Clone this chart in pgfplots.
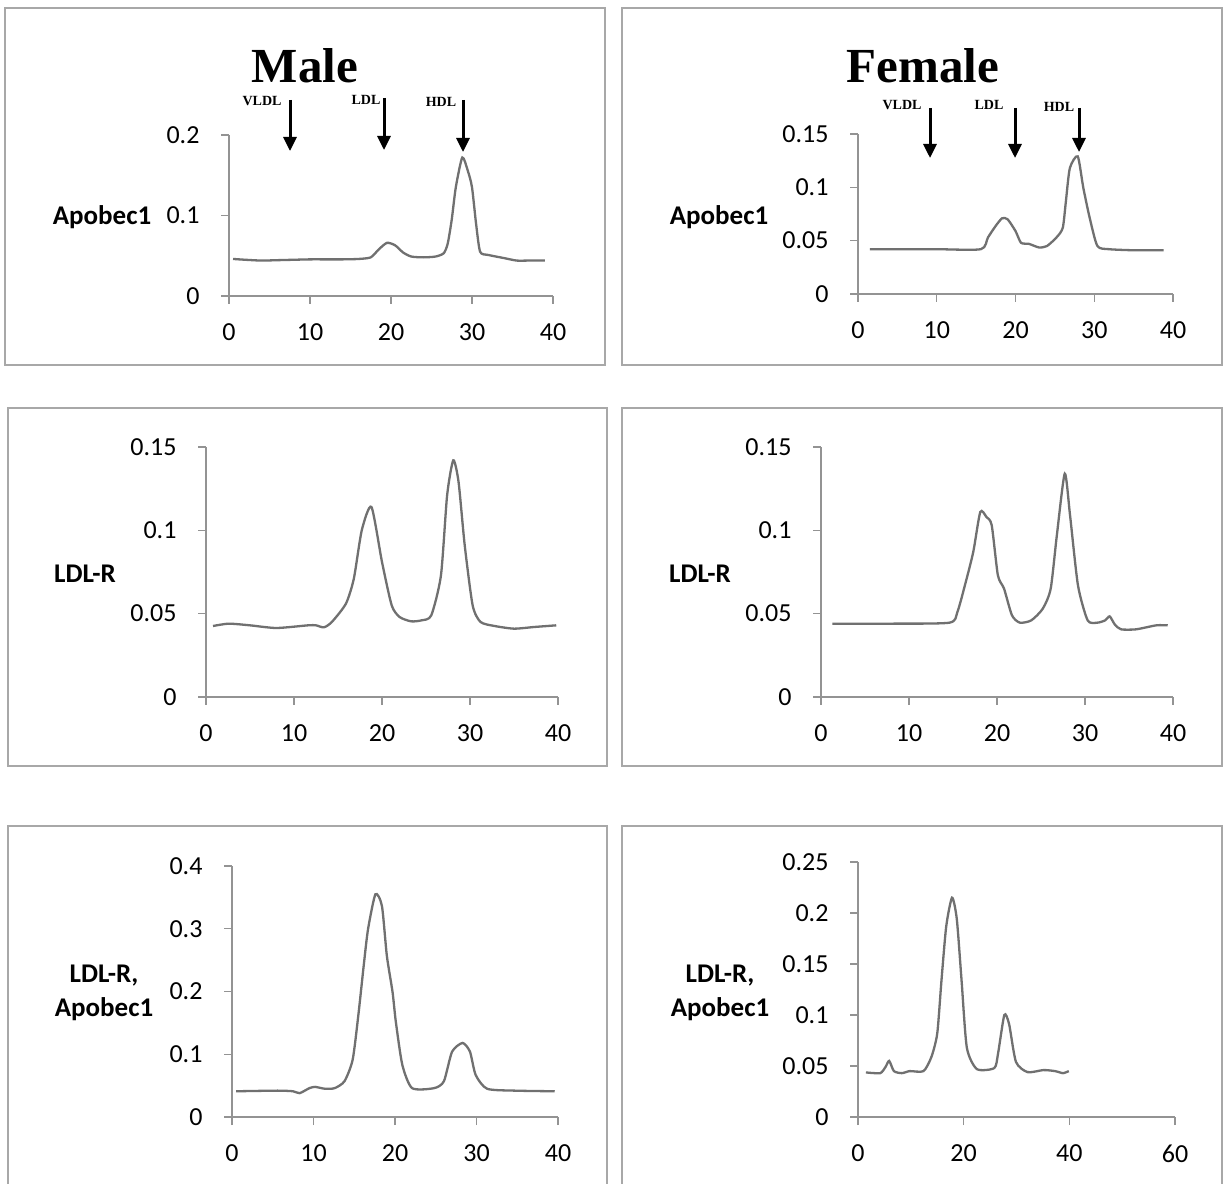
\documentclass[border=0pt]{standalone}
\usepackage{fontspec}
\setmainfont{Carlito}
\newfontfamily\timesf{Liberation Serif}
\usepackage{pgfplots}
\pgfplotsset{compat=1.18}
\usetikzlibrary{arrows.meta}
\definecolor{axgray}{HTML}{939393}
\definecolor{curvegray}{HTML}{707070}
\definecolor{framegray}{HTML}{A8A8A8}
\pgfplotsset{
  panel/.style={
    scale only axis, anchor=south west,
    axis x line=bottom, axis y line=left,
    axis line style={draw=axgray, line width=1.3pt, -},
    every tick/.style={draw=axgray, line width=1.3pt},
    major tick length=8pt, tick align=outside,
    xmin=0, xmax=40, ymin=0, enlargelimits=false,
    xtick={0,10,20,30,40}, xticklabels={0,10,20,30,40},
    tick label style={font=\fontsize{26}{30}\selectfont, text=black},
    xticklabel style={yshift=-16pt},
    yticklabel style={xshift=-18pt},
    /pgf/number format/assume math mode=true,
    clip=false,
  },
  curve/.style={draw=curvegray, line width=2.3pt, mark=none, smooth, tension=0.4},
}
\begin{document}
\begin{tikzpicture}[x=1pt,y=1pt]
\useasboundingbox (0,0) rectangle (1225,1183);
\fill[white] (0,0) rectangle (1225,1183);
% frames
\draw[framegray, line width=1.5pt] (5,1175) rectangle (605,818);
\draw[framegray, line width=1.5pt] (622,1175) rectangle (1222,818);
\draw[framegray, line width=1.5pt] (8,775) rectangle (607,417);
\draw[framegray, line width=1.5pt] (622,775) rectangle (1222,417);
\draw[framegray, line width=1.5pt] (8,357) rectangle (607,-10);
\draw[framegray, line width=1.5pt] (622,357) rectangle (1222,-10);

% Panel 1: Male Apobec1
\begin{axis}[panel, at={(229pt,887pt)}, width=324pt, height=161pt, ymax=0.2,
  ytick={0,0.1,0.2}, yticklabels={0,0.1,0.2}]
\addplot[curve] coordinates {(0.5,0.046)(2,0.045)(4,0.044)(6,0.0445)(8,0.045)(10,0.0455)(12,0.0455)(14,0.0455)(16,0.046)(17.5,0.048)(18.5,0.058)(19.5,0.066)(20.5,0.063)(21.5,0.054)(22.5,0.049)(24,0.048)(25.5,0.049)(26.5,0.053)(27,0.065)(27.5,0.095)(28,0.135)(28.8,0.172)(29.5,0.155)(30,0.135)(30.5,0.09)(31,0.055)(32,0.051)(34,0.047)(35.5,0.044)(37,0.044)(39,0.044)};
\end{axis}

% Panel 2: Female Apobec1
\begin{axis}[panel, at={(858pt,889pt)}, width=315pt, height=160pt, ymax=0.15,
  ytick={0,0.05,0.1,0.15}, yticklabels={0,0.05,0.1,0.15}]
\addplot[curve] coordinates {(1.5,0.042)(5,0.042)(10,0.042)(15.6,0.042)(16.5,0.053)(17.5,0.064)(18.3,0.071)(19,0.070)(20,0.059)(20.7,0.048)(21.7,0.047)(23,0.0436)(24,0.045)(25.2,0.053)(26,0.062)(26.4,0.087)(26.9,0.118)(27.9,0.129)(28.6,0.10)(29.4,0.072)(30.4,0.045)(31.9,0.042)(35,0.041)(38.8,0.041)};
\end{axis}

% Panel 3: Male LDL-R
\begin{axis}[panel, at={(206pt,486pt)}, width=352pt, height=250pt, ymax=0.15,
  ytick={0,0.05,0.1,0.15}, yticklabels={0,0.05,0.1,0.15}]
\addplot[curve] coordinates {(0.8,0.0426)(2.6,0.044)(5,0.043)(8,0.0414)(11.6,0.043)(12.5,0.043)(13.4,0.0418)(14.3,0.045)(15.9,0.056)(16.8,0.071)(17.7,0.1)(18.8,0.114)(20,0.081)(21.1,0.055)(22,0.048)(23.3,0.0454)(24.5,0.046)(25.6,0.049)(26.7,0.073)(27.4,0.121)(28.1,0.142)(28.7,0.129)(29.4,0.091)(30.3,0.055)(31.2,0.045)(32.8,0.0426)(35,0.041)(37.3,0.042)(39.8,0.043)};
\end{axis}

% Panel 4: Female LDL-R
\begin{axis}[panel, at={(821pt,486pt)}, width=352pt, height=250pt, ymax=0.15,
  ytick={0,0.05,0.1,0.15}, yticklabels={0,0.05,0.1,0.15}]
\addplot[curve] coordinates {(1.3,0.044)(8,0.044)(14.6,0.0446)(15.5,0.051)(16.4,0.068)(17.3,0.087)(18.1,0.111)(18.8,0.108)(19.4,0.103)(20.1,0.073)(20.8,0.065)(21.7,0.049)(22.6,0.0446)(23.9,0.046)(25.2,0.053)(26.1,0.065)(26.8,0.097)(27.7,0.134)(28.3,0.109)(29.2,0.067)(30.3,0.046)(31.4,0.0446)(32.3,0.046)(32.8,0.0484)(33.4,0.0434)(34.1,0.0406)(35.8,0.0406)(38.1,0.043)(39.4,0.043)};
\end{axis}

% Panel 5: Male LDL-R, Apobec1
\begin{axis}[panel, at={(232pt,66pt)}, width=326pt, height=251pt, ymax=0.4,
  ytick={0,0.1,0.2,0.3,0.4}, yticklabels={0,0.1,0.2,0.3,0.4}]
\addplot[curve] coordinates {(0.5,0.041)(5.6,0.042)(7.5,0.041)(8.3,0.038)(9.5,0.046)(10.2,0.048)(11.4,0.045)(12.6,0.046)(13.8,0.057)(14.8,0.091)(15.5,0.162)(16.2,0.246)(16.7,0.300)(17.6,0.355)(18.4,0.336)(19,0.257)(19.7,0.199)(20.1,0.152)(20.9,0.083)(22.1,0.046)(24.8,0.046)(26,0.057)(27,0.104)(28.3,0.118)(29.2,0.104)(29.9,0.067)(31.3,0.045)(34.7,0.042)(39.6,0.041)};
\end{axis}

% Panel 6: Female LDL-R, Apobec1
\begin{axis}[panel, at={(858pt,66pt)}, width=317pt, height=255pt, xmax=60, ymax=0.25,
  xtick={0,20,40,60}, xticklabels={0,20,40,60},
  ytick={0,0.05,0.1,0.15,0.2,0.25}, yticklabels={0,0.05,0.1,0.15,0.2,0.25}]
\addplot[curve] coordinates {(1.5,0.0437)(4.2,0.043)(5.2,0.049)(5.9,0.055)(6.8,0.045)(8.3,0.043)(9.8,0.045)(12.4,0.045)(13.9,0.059)(15,0.082)(15.8,0.134)(16.7,0.187)(17.8,0.215)(18.7,0.194)(19.6,0.134)(20.6,0.068)(22.5,0.047)(25.8,0.048)(26.5,0.062)(27.7,0.1)(28.6,0.091)(29.9,0.054)(32.1,0.044)(35.1,0.046)(37.3,0.045)(38.8,0.043)(39.9,0.045)};
\end{axis}

% row labels
\node[font=\fontsize{27}{30}\selectfont\bfseries] at (102,966) {Apobec1};
\node[font=\fontsize{27}{30}\selectfont\bfseries] at (719,966) {Apobec1};
\node[font=\fontsize{27}{30}\selectfont\bfseries] at (85,609) {LDL-R};
\node[font=\fontsize{27}{30}\selectfont\bfseries] at (700,609) {LDL-R};
\node[font=\fontsize{27}{34}\selectfont\bfseries, align=center] at (104,190) {LDL-R,\\Apobec1};
\node[font=\fontsize{27}{34}\selectfont\bfseries, align=center] at (720,190) {LDL-R,\\Apobec1};

% titles
\node[font=\timesf\bfseries\fontsize{49}{52}\selectfont, anchor=base] at (305,1100) {Male};
\node[font=\timesf\bfseries\fontsize{49}{52}\selectfont, anchor=base] at (923,1100) {Female};

% fraction arrows
\tikzset{frac/.style={-{Triangle[width=13pt,length=14pt]}, line width=3pt, black},
         flab/.style={font=\timesf\bfseries\fontsize{14}{16}\selectfont}}
\draw[frac] (290,1083) -- (290,1032);
\draw[frac] (384,1085) -- (384,1033);
\draw[frac] (463,1083) -- (463,1031);
\node[flab] at (262,1082) {VLDL};
\node[flab] at (366,1083) {LDL};
\node[flab] at (441,1081) {HDL};
\draw[frac] (930,1075) -- (930,1025);
\draw[frac] (1015,1075) -- (1015,1025);
\draw[frac] (1079,1075) -- (1079,1031);
\node[flab] at (902,1078) {VLDL};
\node[flab] at (989,1078) {LDL};
\node[flab] at (1059,1076) {HDL};
\end{tikzpicture}
\end{document}
